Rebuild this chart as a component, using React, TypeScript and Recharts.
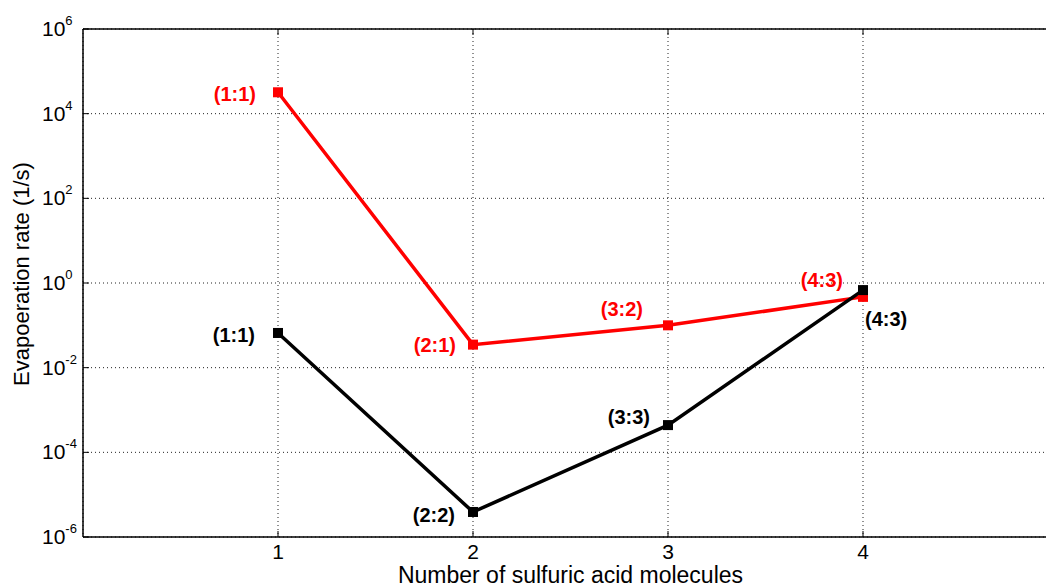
import React from 'react'
import { LineChart, Line, XAxis, YAxis, CartesianGrid, LabelList, ReferenceLine, Label } from 'recharts'

// number of sulfuric acid molecules
const molecules = [1, 2, 3, 4]
// evaporation rates (1/s)
const redRates = [3.2e4, 0.035, 0.1, 0.47]
const blackRates = [0.066, 3.9e-6, 4.4e-4, 0.68]
const redLabels = ['(1:1)', '(2:1)', '(3:2)', '(4:3)']
const blackLabels = ['(1:1)', '(2:2)', '(3:3)', '(4:3)']
const yTicks = [1e-6, 1e-4, 1e-2, 1, 1e2, 1e4, 1e6]
const xTicks = [1, 2, 3, 4]

const RED = '#ff0000'
const BLACK = '#000000'
const FONT = '"Liberation Sans", Arial, sans-serif'
const PLOT_TOP = 29
const PLOT_LEFT = 83
const PLOT_BOTTOM = 537

// where each text label sits relative to its point
const redPlacement = [
  { dx: -22, dy: 2, anchor: 'end' },
  { dx: -17, dy: 0, anchor: 'end' },
  { dx: -25, dy: -16, anchor: 'end' },
  { dx: -20, dy: -17, anchor: 'end' },
]
const blackPlacement = [
  { dx: -23, dy: 2, anchor: 'end' },
  { dx: -18, dy: 3, anchor: 'end' },
  { dx: -18, dy: -8, anchor: 'end' },
  { dx: 2, dy: 29, anchor: 'start' },
]

const data = molecules.map((n, i) => ({
  n,
  red: redRates[i],
  black: blackRates[i],
  redLabel: redLabels[i],
  blackLabel: blackLabels[i],
}))

const SquareDot = (color: string) => (props: any) => {
  const { cx, cy, index } = props
  if (cx == null || cy == null) return <g key={index} />
  return <rect key={index} x={cx - 5} y={cy - 5} width={10} height={10} fill={color} />
}

const makeLabel = (color: string, placement: any[]) => (props: any) => {
  const { x, y, value, index } = props
  const p = placement[index]
  return (
    <text
      x={x + p.dx}
      y={y + p.dy + 7}
      textAnchor={p.anchor}
      fill={color}
      fontFamily={FONT}
      fontWeight="bold"
      fontSize={20}
    >
      {value}
    </text>
  )
}

const YTick = (props: any) => {
  const { y, payload } = props
  const exp = Math.round(Math.log10(payload.value))
  return (
    <g>
      <line x1={PLOT_LEFT} x2={PLOT_LEFT + 6} y1={y} y2={y} stroke="#000" />
      <text x={PLOT_LEFT - 41} y={y + 7} fontFamily={FONT} fontSize={21} fill="#000">
        10
        <tspan dy={-11} fontSize={13}>{exp}</tspan>
      </text>
    </g>
  )
}

const XTick = (props: any) => {
  const { x, payload } = props
  return (
    <g>
      <line x1={x} x2={x} y1={PLOT_BOTTOM} y2={PLOT_BOTTOM - 6} stroke="#000" />
      <line x1={x} x2={x} y1={PLOT_TOP} y2={PLOT_TOP + 6} stroke="#000" />
      <text x={x} y={PLOT_BOTTOM + 22} textAnchor="middle" fontFamily={FONT} fontSize={21} fill="#000">
        {payload.value}
      </text>
    </g>
  )
}

export default function App() {
  return (
    <div
      style={{
        position: 'absolute',
        left: 0,
        top: 0,
        width: 1046,
        height: 587,
        overflow: 'hidden',
        background: '#fff',
      }}
    >
      <LineChart
        width={1070}
        height={587}
        data={data}
        margin={{ top: PLOT_TOP, right: 12, left: 0, bottom: 0 }}
      >
        <CartesianGrid stroke="#222" strokeDasharray="1 3" />
        <XAxis
          dataKey="n"
          type="number"
          domain={[0, 5]}
          ticks={xTicks}
          height={50}
          tickSize={0}
          tickMargin={0}
          tickLine={false}
          axisLine={{ stroke: '#000', strokeWidth: 1.5 }}
          tick={XTick}
        >
          <Label
            content={(p: any) => {
              const vb = p.viewBox
              return (
                <text
                  x={vb.x + vb.width / 2}
                  y={vb.y + 46}
                  textAnchor="middle"
                  fontFamily={FONT}
                  fontSize={23}
                  fill="#000"
                >
                  Number of sulfuric acid molecules
                </text>
              )
            }}
          />
        </XAxis>
        <YAxis
          type="number"
          scale="log"
          domain={[1e-6, 1e6]}
          ticks={yTicks}
          allowDataOverflow
          width={PLOT_LEFT}
          tickSize={0}
          tickMargin={0}
          tickLine={false}
          axisLine={{ stroke: '#000', strokeWidth: 1.5 }}
          tick={YTick}
        >
          <Label
            content={() => (
              <text
                x={29}
                y={274}
                transform="rotate(-90, 29, 274)"
                textAnchor="middle"
                fontFamily={FONT}
                fontSize={22}
                fill="#000"
              >
                Evapoeration rate (1/s)
              </text>
            )}
          />
        </YAxis>
        <ReferenceLine y={1e6} stroke="#000" strokeWidth={1.5} strokeDasharray="0" />
        <ReferenceLine x={5} stroke="#000" strokeWidth={1.5} strokeDasharray="0" />
        <Line
          dataKey="red"
          stroke={RED}
          strokeWidth={3.5}
          dot={SquareDot(RED)}
          activeDot={false}
          isAnimationActive={false}
        >
          <LabelList dataKey="redLabel" content={makeLabel(RED, redPlacement)} />
        </Line>
        <Line
          dataKey="black"
          stroke={BLACK}
          strokeWidth={3.5}
          dot={SquareDot(BLACK)}
          activeDot={false}
          isAnimationActive={false}
        >
          <LabelList dataKey="blackLabel" content={makeLabel(BLACK, blackPlacement)} />
        </Line>
      </LineChart>
    </div>
  )
}
